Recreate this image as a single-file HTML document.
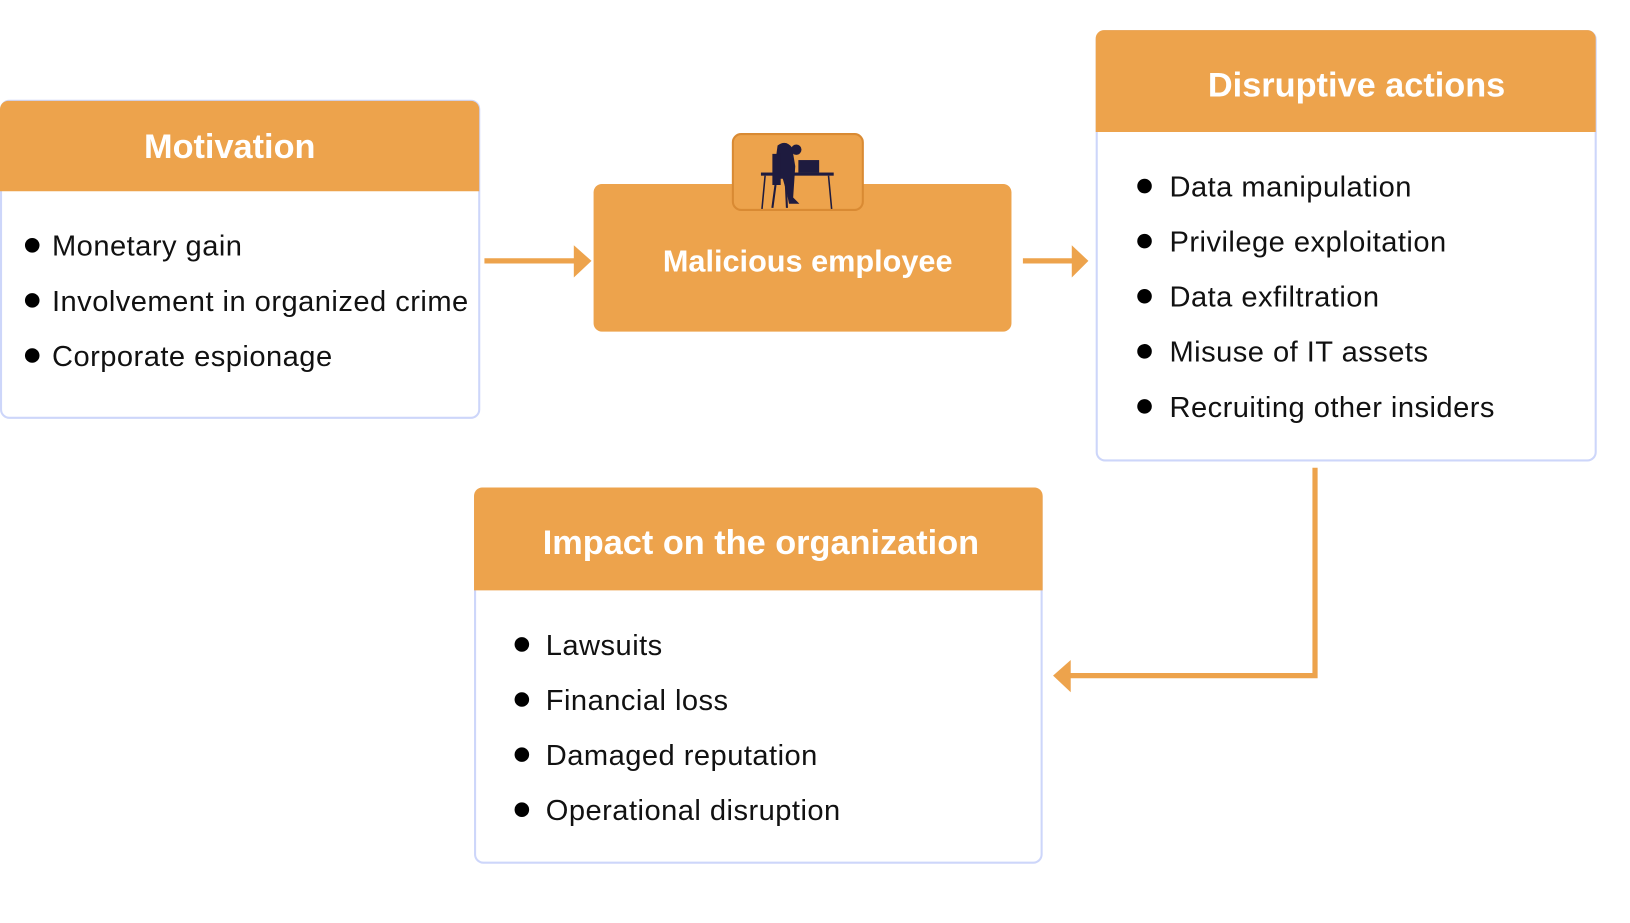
<!DOCTYPE html>
<html><head><meta charset="utf-8"><style>
html,body{margin:0;padding:0;background:#fff;width:1630px;height:923px;overflow:hidden}
svg{display:block}
text{font-family:"Liberation Sans",sans-serif}
.t{font-weight:bold;fill:#fff;font-size:33px}
.i{font-size:28px;fill:#111;letter-spacing:0.45px}
</style></head><body>
<svg width="1630" height="923" viewBox="0 0 1568 888" preserveAspectRatio="none" xmlns="http://www.w3.org/2000/svg">
<!-- Motivation -->
<rect x="1" y="97" width="460" height="305" rx="8" fill="#fff" stroke="#cdd6fa" stroke-width="2"/>
<path d="M0 105 a8 8 0 0 1 8 -8 h445 a8 8 0 0 1 8 8 v79 h-461z" fill="#eda34c"/>
<text class="t" x="221" y="152" text-anchor="middle">Motivation</text>
<circle cx="31" cy="236" r="7"/><text class="i" x="50" y="246">Monetary gain</text>
<circle cx="31" cy="289" r="7"/><text class="i" x="50" y="299">Involvement in organized crime</text>
<circle cx="31" cy="342" r="7"/><text class="i" x="50" y="352">Corporate espionage</text>
<!-- arrow 1 -->
<line x1="466" y1="251" x2="556" y2="251" stroke="#eda34c" stroke-width="5"/>
<polygon points="552,236 569,251 552,267" fill="#eda34c"/>
<!-- Malicious -->
<rect x="571" y="177" width="402" height="142" rx="8" fill="#eda34c"/>
<rect x="705" y="129" width="125" height="73" rx="8" fill="#eda34c" stroke="#d98a33" stroke-width="2"/>
<g fill="#1e1b3f">
<rect x="732" y="166" width="70" height="3"/>
<path d="M748 140 q8 -6 14 2 l3 18 l-2 30 l6 6 h-10 l-2 -10 l-4 -14 l-6 0 l-2 -10 z"/>
<rect x="768" y="154" width="20" height="12"/>
<circle cx="766" cy="144" r="5"/>
<path d="M743 148 h8 v30 h-8z"/>
<path d="M746 178 l-3 22 M756 178 l1 22" stroke="#1e1b3f" stroke-width="2"/>
<path d="M736 169 l-3 32 M797 169 l3 32" stroke="#1e1b3f" stroke-width="1.5"/>
</g>
<text class="t" x="777" y="261" text-anchor="middle" style="font-size:29.5px">Malicious employee</text>
<!-- arrow 2 -->
<line x1="984" y1="251" x2="1034" y2="251" stroke="#eda34c" stroke-width="5"/>
<polygon points="1031,236 1047,251 1031,267" fill="#eda34c"/>
<!-- Disruptive -->
<rect x="1055" y="30" width="480" height="413" rx="8" fill="#fff" stroke="#cdd6fa" stroke-width="2"/>
<path d="M1054 37 a8 8 0 0 1 8 -8 h465 a8 8 0 0 1 8 8 v90 h-481z" fill="#eda34c"/>
<text class="t" x="1305" y="93" text-anchor="middle">Disruptive actions</text>
<circle cx="1101" cy="179" r="7"/><text class="i" x="1125" y="189">Data manipulation</text>
<circle cx="1101" cy="232" r="7"/><text class="i" x="1125" y="242">Privilege exploitation</text>
<circle cx="1101" cy="285" r="7"/><text class="i" x="1125" y="295">Data exfiltration</text>
<circle cx="1101" cy="338" r="7"/><text class="i" x="1125" y="348">Misuse of IT assets</text>
<circle cx="1101" cy="391" r="7"/><text class="i" x="1125" y="401">Recruiting other insiders</text>
<!-- connector -->
<polyline points="1265,450 1265,650 1026,650" fill="none" stroke="#eda34c" stroke-width="5"/>
<polygon points="1030,635 1013,650 1030,666" fill="#eda34c"/>
<!-- Impact -->
<rect x="457" y="470" width="545" height="360" rx="8" fill="#fff" stroke="#cdd6fa" stroke-width="2"/>
<path d="M456 477 a8 8 0 0 1 8 -8 h531 a8 8 0 0 1 8 8 v91 h-547z" fill="#eda34c"/>
<text class="t" x="732" y="533" text-anchor="middle">Impact on the organization</text>
<circle cx="502" cy="620" r="7"/><text class="i" x="525" y="630">Lawsuits</text>
<circle cx="502" cy="673" r="7"/><text class="i" x="525" y="683">Financial loss</text>
<circle cx="502" cy="726" r="7"/><text class="i" x="525" y="736">Damaged reputation</text>
<circle cx="502" cy="779" r="7"/><text class="i" x="525" y="789">Operational disruption</text>
</svg>
</body></html>
